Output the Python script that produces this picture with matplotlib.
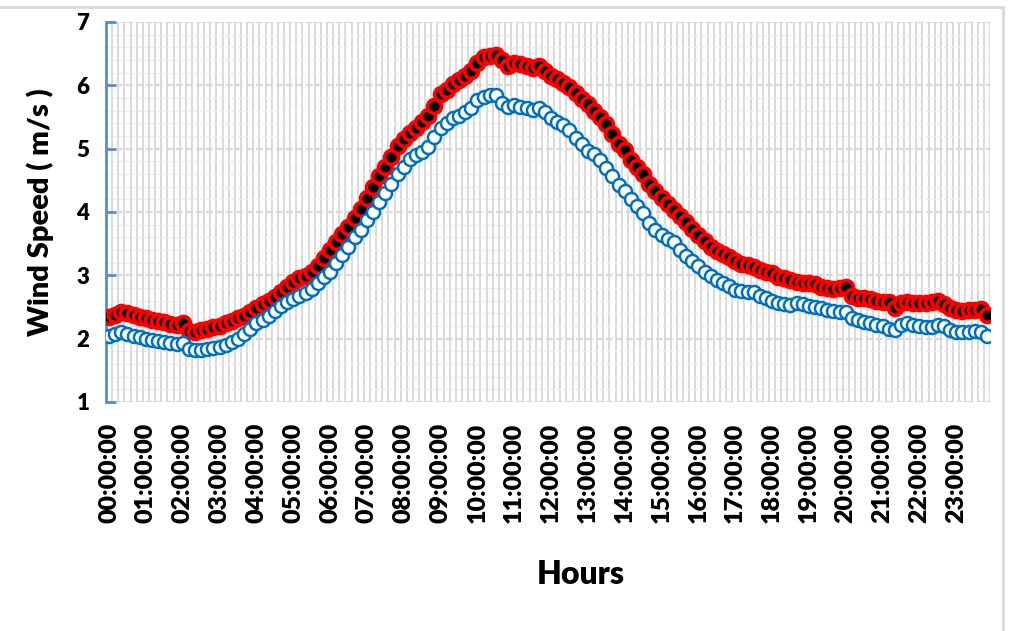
import matplotlib
matplotlib.use("Agg")
import matplotlib.pyplot as plt
from matplotlib.ticker import MultipleLocator, FixedLocator
from matplotlib.lines import Line2D

# 10-minute averaged wind speed over a day (144 samples)
speed_red = [
    2.35, 2.38, 2.42, 2.40, 2.37, 2.34, 2.32, 2.30, 2.28, 2.26, 2.23, 2.21, 2.24, 2.12, 2.10, 2.14,
    2.16, 2.18, 2.20, 2.24, 2.28, 2.32, 2.36, 2.42, 2.48, 2.54, 2.60, 2.66, 2.74, 2.82, 2.90, 2.96,
    2.99, 3.05, 3.15, 3.27, 3.40, 3.52, 3.65, 3.76, 3.90, 4.05, 4.22, 4.40, 4.57, 4.71, 4.87, 5.04,
    5.15, 5.25, 5.33, 5.42, 5.52, 5.68, 5.86, 5.93, 6.02, 6.09, 6.15, 6.22, 6.36,
    6.44, 6.47, 6.48, 6.40, 6.30, 6.35, 6.33, 6.30, 6.28, 6.31, 6.22, 6.15, 6.10, 6.04, 5.97, 5.88,
    5.78, 5.70, 5.60, 5.50, 5.39, 5.23, 5.08, 4.98, 4.82, 4.71, 4.60, 4.45, 4.33,
    4.22, 4.13, 4.03, 3.94, 3.85, 3.73, 3.64, 3.55, 3.45, 3.38, 3.33, 3.29, 3.22, 3.18, 3.16, 3.13,
    3.08, 3.05, 3.03, 2.98, 2.96, 2.92, 2.90, 2.88, 2.88, 2.86, 2.82, 2.80,
    2.78, 2.80, 2.82, 2.68, 2.65, 2.64, 2.62, 2.60, 2.58, 2.58, 2.48, 2.56, 2.58, 2.56, 2.56, 2.57,
    2.58, 2.59, 2.54, 2.49, 2.46, 2.44, 2.45, 2.46, 2.47, 2.38,
]

speed_blue = [
    2.05, 2.08, 2.10, 2.08, 2.05, 2.02, 2.00, 1.98, 1.96, 1.94, 1.93, 1.92, 1.93, 1.83, 1.82, 1.82,
    1.83, 1.85, 1.87, 1.90, 1.95, 2.00, 2.08, 2.16, 2.24, 2.30, 2.36, 2.44, 2.52, 2.58, 2.63, 2.68,
    2.72, 2.79, 2.88, 2.98, 3.05, 3.20, 3.32, 3.45, 3.60, 3.72, 3.88, 4.00, 4.16, 4.30, 4.45, 4.60,
    4.71, 4.84, 4.90, 4.95, 5.03, 5.18, 5.33, 5.40, 5.49, 5.51, 5.58, 5.65, 5.77,
    5.82, 5.84, 5.85, 5.72, 5.66, 5.69, 5.66, 5.64, 5.61, 5.64, 5.58, 5.49, 5.42, 5.37, 5.29, 5.17,
    5.07, 4.97, 4.92, 4.82, 4.70, 4.57, 4.42, 4.33, 4.20, 4.10, 3.99, 3.83, 3.72, 3.63,
    3.58, 3.52, 3.40, 3.30, 3.22, 3.15, 3.05, 2.99, 2.92, 2.88, 2.83, 2.77, 2.75, 2.74, 2.73, 2.68,
    2.64, 2.59, 2.57, 2.55, 2.53, 2.57, 2.55, 2.52, 2.50, 2.48, 2.46,
    2.43, 2.42, 2.42, 2.33, 2.30, 2.27, 2.25, 2.22, 2.20, 2.16, 2.14, 2.22, 2.24, 2.22, 2.20, 2.19,
    2.19, 2.21, 2.20, 2.13, 2.11, 2.10, 2.11, 2.12, 2.10, 2.05,
]

hour_labels = [f"{h:02d}:00:00" for h in range(24)]
samples_per_hour = 6

FONT = "Lato"
WEIGHT = "heavy"
AXIS_BLUE = "#5b8bd0"
GRID = "#d9d9d9"

fig = plt.figure(figsize=(10.12, 6.31), dpi=100)
ax = fig.add_axes([106 / 1012, 1 - 402 / 631, (990 - 106) / 1012, (402 - 22) / 631])

x = list(range(len(speed_red)))

ax.plot(x, speed_red, linestyle="none", marker="o", markersize=10.0,
        markerfacecolor="black", markeredgecolor="#ff0000", markeredgewidth=2.7, zorder=3)
ax.plot(x, speed_blue, linestyle="none", marker="o", markersize=9.4,
        markerfacecolor="white", markeredgecolor="#0070c0", markeredgewidth=1.8, zorder=4)

ax.set_xlim(-0.5, len(x) - 0.5)
ax.set_ylim(1, 7)

# category gridlines between every sample
ax.xaxis.set_minor_locator(FixedLocator([i - 0.5 for i in range(len(x) + 1)]))
ax.grid(which="minor", axis="x", color=GRID, linewidth=1.4, zorder=0)
ax.set_xticks([h * samples_per_hour for h in range(24)])
ax.set_xticklabels(hour_labels, rotation=90, fontsize=18, fontweight=WEIGHT, family=FONT)
ax.tick_params(axis="x", which="both", length=0, pad=15)

ax.yaxis.set_major_locator(MultipleLocator(1))
ax.yaxis.set_minor_locator(MultipleLocator(0.2))
ax.grid(which="major", axis="y", color=GRID, linewidth=1.6, linestyle=(0, (3, 1.5)), zorder=0)
ax.grid(which="minor", axis="y", color="#ececec", linewidth=1.0, linestyle=(0, (3, 1.5)), zorder=0)
ax.tick_params(axis="y", which="major", direction="in", length=7, width=2, color=AXIS_BLUE,
               labelsize=16, pad=12)
ax.tick_params(axis="y", which="minor", length=0)
for lbl in ax.get_yticklabels():
    lbl.set_fontweight(WEIGHT)
    lbl.set_family(FONT)

for side in ("top", "right", "bottom"):
    ax.spines[side].set_visible(False)
ax.spines["left"].set_color(AXIS_BLUE)
ax.spines["left"].set_linewidth(2)
ax.set_axisbelow(True)

fig.text(40 / 1012, 1 - 212 / 631, "Wind Speed ( m/s )", rotation=90, ha="center", va="center",
         fontsize=21, fontweight=WEIGHT, family=FONT)
fig.text(581 / 1012, 1 - 574 / 631, "Hours", ha="center", va="center",
         fontsize=23, fontweight=WEIGHT, family=FONT)

# thin frame around the chart area
fig.add_artist(Line2D([0, 1003 / 1012], [1 - 7 / 631, 1 - 7 / 631], color="#d9d9d9", linewidth=2,
                      transform=fig.transFigure))
fig.add_artist(Line2D([1003 / 1012, 1003 / 1012], [0, 1 - 7 / 631], color="#d9d9d9", linewidth=2,
                      transform=fig.transFigure))

fig.savefig("out.png", dpi=100)
